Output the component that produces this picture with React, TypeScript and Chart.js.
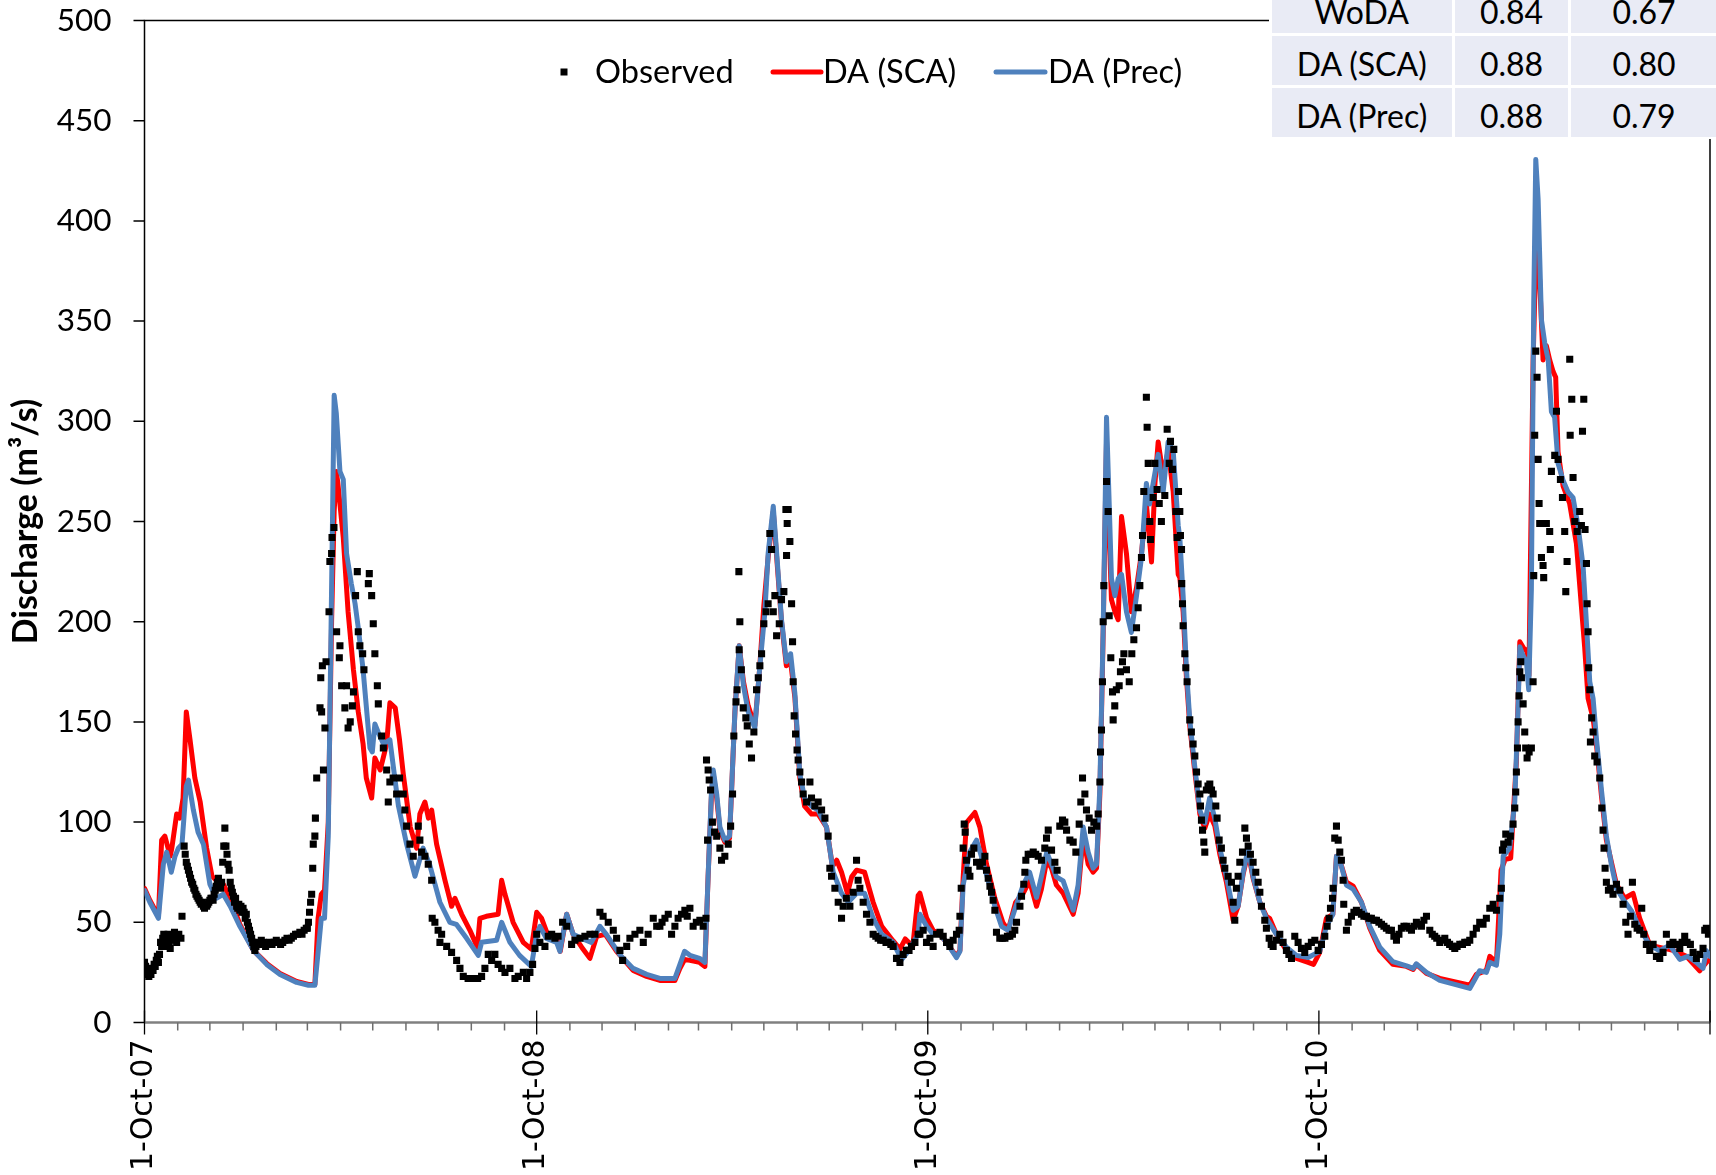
import React, { useEffect, useRef } from "react";
import { Chart, registerables } from "chart.js";

Chart.register(...registerables);

// ---------- data ----------
const yTicks = [0, 50, 100, 150, 200, 250, 300, 350, 400, 450, 500];
const xTickLabels = ["1-Oct-07", "1-Oct-08", "1-Oct-09", "1-Oct-10"];
const legendLabels = ["Observed", "DA (SCA)", "DA (Prec)"];

const tableNames = ["WoDA", "DA (SCA)", "DA (Prec)"];
const tableColA = ["0.84", "0.88", "0.88"];
const tableColB = ["0.67", "0.80", "0.79"];

// [day since 1-Oct-2007, discharge m3/s]
const observed: number[][] = [
  [0,30],[1,28],[2,26],[3,24],[4,23],[5,25],[6,24],[7,27],[8,26],[9,29],[10,28],[11,31],[12,33],[13,30],[14,34],
  [15,40],[16,38],[17,42],[18,44],[19,41],[20,38],[21,43],[22,44],[23,40],[24,37],[25,42],[26,43],[27,41],[28,45],[29,42],[30,40],[31,43],[32,44],[34,42],[35,53],
  [37,88],[38,84],[39,80],[40,78],[41,76],[42,74],[43,72],[44,70],[45,69],[46,67],[47,66],[48,64],[49,63],[50,62],[51,61],[52,60],[53,59],[54,60],[55,58],[56,57],[57,59],[58,58],[59,59],[60,60],[61,61],[62,62],
  [63,62],[64,61],[65,64],[66,66],[67,68],[68,70],[69,72],[70,69],[71,67],[72,70],[73,80],[74,88],[75,97],[76,88],[77,84],[78,79],[79,76],[80,70],[81,67],[82,65],[83,63],[84,60],[85,62],[86,58],[87,57],[88,59],[89,56],[90,58],[91,55],[92,57],[93,55],[94,52],[95,54],[96,50],[97,48],[98,46],[99,44],[100,42],[101,40],[102,38],[103,36],[104,38],
  [105,40],[107,39],[109,41],[111,40],[113,38],[115,39],[117,40],[119,39],[121,40],[123,41],[125,40],[127,39],[129,40],[131,41],[133,42],[135,41],[137,42],[139,43],[141,44],[143,44],[145,45],[147,44],[149,46],[151,47],
  [152,47],[153,50],[154,55],[155,60],[156,64],[157,77],[157.5,89],[159,93],[159.5,102],[160.7,122],[163.8,157],[164.5,172],[165.3,155],[166,178],[167,126],[168.4,147],[169.4,180],[172.2,205],[173,230],[174.6,234],[175,242],[176.8,247],
  [179.3,195],[181.8,182],[182.4,188],[184,168],[187,157],[188.6,168],[190,147],[192,150],[194,158],[195,165],[197,213],[198.6,225],[199.5,195],[201,188],[203.6,184],[204.8,176],[208.9,219],[209.8,224],[212,213],[213.5,199],[215,184],[217.3,168],[218.2,159],[221.3,143],[222.9,137],[226,126],[227.5,110],[229,120],[232,122],[235.3,114],
  [238,122],[241.5,114],[243,106],[244.6,98],[247.7,89],[250.8,83],[255.5,98],[257,91],[258.6,85],[261.7,83],[264.8,79],[268,71],[268.5,52],[271,50],[274,46],[275.7,40],[277.3,44],[282,38],[286.6,35],[291.3,31],[294.4,27],[297.5,23],[302,22],[305,22],[308.4,22],[311,22],[314.6,23],[317.7,27],[320.8,34],[324,31],[327,34],[330,29],[333.3,27],[336.4,25],[341,27],[345.7,22],[348.8,23],[353.5,25],[356.6,22],[359.7,25],[362.2,29],[364.4,37],
  [366,44],[369,40],[373.7,38],[376.8,43],[380,44],[383,42],[386,43],[390.2,50],[394,48],[398.6,39],[401.7,41],[406.4,42],[411,43],[415.7,44],[420.4,44],[425,55],[428,53],[432.8,50],[437.5,46],[440.6,42],[443.7,36],[446.2,31],[450,38],[453,42],[457.7,44],[462.3,46],[465.5,40],[470,44],[474.8,52],[478,48],
  [481,48],[483,50],[485.7,52],[488.8,54],[491.9,44],[495,48],[498,52],[501.2,54],[504.3,56],[506.5,53],[509,57],[512,48],[515,50],[518.3,51],[521.4,48],[524,52],[524.5,131],[525.5,91],[526,126],[527,121],[528.3,116],[530,100],[532,95],[534,93],[537,87],[538.5,81],[541.6,83],[544.8,89],[547,98],[548.8,114],[550,143],[552,160],[553,166],[554.7,225],[555,186],[555.6,200],[557,176],[558.8,157],[561.2,152],[562.5,148],[564.4,139],[566.5,132],[568.7,145],[571.2,166],[572.8,172],[574.3,178],[575.9,184],[578,199],[580,205],[582,209],[583.6,244],[585.2,236],[586.8,205],[588.3,213],[589.9,193],[592.4,199],[594.5,211],[596.7,215],[598.6,256],[599.2,233],[599.8,249],[600.7,256],[602.3,240],[603.9,209],[604.8,190],[605.4,170],[606.3,153],[607.6,144],[609,136],[610,131],[611.6,125],[613.2,120],[614.7,114],[617.9,110],[621,120],[622.5,112],[625.6,108],[628.7,110],[631.9,106],[635,102],[638,93],[639.6,77],[641.2,73],[644.3,67],[647.4,60],[650.5,52],[652,58],[655,62],[658.3,58],[661.4,65],[664.5,81],[666,71],[667.6,67],[670.7,60],[673.8,54],[677,50],[680,44],[682.5,43],[684.7,42],[687,41],[689.4,41],[692,40],[694,40],[696.5,39],[698.7,38],[701.8,32],[705,30],[708,34],[711,36],[713.5,36],[715.8,38],[719,40],[722,44],
  [723.6,44],[726.7,46],[729.8,40],[733,42],[736,38],[739.2,44],[742.3,45],[745.4,43],[748.5,40],[751.6,38],[754.7,41],[757.8,44],[760.3,46],[761,53],[762.2,67],[764,87],[765,99],[765.9,95],[767.1,81],[768.7,76],[770.3,73],[771.8,84],[774,87],[776.5,80],[779.6,78],[782,80],[784.3,83],[785.8,76],[787.4,72],[789,68],[790.5,65],[792,61],[793.6,56],[795.1,45],[798.2,42],[800.5,42],[803,42],[805.3,43],[807.6,43],[810,44],[812.2,46],[813.8,50],[817,58],[818.5,63],[820.6,69],[821.6,75],[822.5,81],[824.7,84],[827,84],[829.4,85],[831.7,84],[834,83],[837.1,81],[840.2,87],[841.8,92],[843.4,96],[846.5,86],[849.6,80],[851.7,76],[854.2,98],[856.7,101],[858.9,100],[860.5,96],[863.6,91],[866.7,90],[869.2,85],[872.3,99],[873.8,110],[875.4,122],[877.6,114],[879.1,106],[881.6,102],[883.8,96],[886,100],[888.5,98],[890,104],[891.6,120],[892.2,135],[893.1,146],[894,170],[894.7,200],[895.3,218],[897.8,270],[899.3,255],[900.3,203],[901.8,182],[903.4,165],[904,151],[905.5,158],[907,166],[909.6,168],[910.8,175],[912.7,180],[914,184],[916.4,176],[919,170],[921.4,184],[923.3,191],[925.8,197],[927.3,207],[928.9,218],[930.4,232],[931.4,243],[932.6,265],[935,312],[935.7,297],[936.7,279],[938.2,250],[938.8,241],[941.3,262],[942.9,279],[945,266],[947,259],[949,250],[952.2,263],[954.4,296],[956.3,279],[957.5,290],[959.4,276],[960.6,286],[962.5,255],[963.7,242],[965,265],
  [966.2,255],[966.8,243],[967.8,236],[968,219],[968.7,209],[969.3,198],[970.9,184],[971.8,177],[973,170],[975.5,151],[977,145],[978.6,139],[980.2,133],[981.8,125],[983.3,119],[984.9,114],[985.5,108],[986.4,101],[987.4,96],[988.6,90],[989.5,85],[991,116],[992.5,118],[994.2,119],[995.8,116],[997.3,114],[999.8,108],[1001,102],[1002.9,91],[1005,87],[1006.6,81],[1008.2,77],[1011.3,73],[1014.4,70],[1016,60],[1017.5,51],[1019,67],[1020.6,73],[1022.2,80],[1024.7,85],[1026.9,97],[1028.4,92],[1030,88],[1032.1,84],[1034.6,80],[1037.1,75],[1039.3,70],[1040.9,65],[1042.4,58],[1045.5,51],[1047,47],[1049.6,42],[1051.5,39],[1053.3,38],[1056.4,41],[1059.5,44],[1062.6,40],[1065.7,36],[1068,34],[1070.4,32],[1073.5,43],[1076.6,40],[1079.7,37],[1082.8,35],[1086,38],[1089,40],[1092.2,41],[1095.3,36],[1098.4,39],[1101.5,43],[1103.7,48],[1105.5,52],[1106.8,57],[1108.7,62],[1109.3,67],[1110.8,92],[1112.4,98],[1114,91],[1115.5,85],[1117,81],[1118.6,71],[1119.2,59],[1121.7,46],[1123.3,50],[1126.4,53],[1128.7,55],[1131,56],[1133.4,55],[1135.7,54],[1138,53],[1140.4,53],[1142.7,52],[1145,52],[1147.4,51],[1149.7,51],[1152,50],[1154.4,49],[1156.7,48],[1159,47],[1161.4,46],[1163.7,46],[1166,43],[1168.4,41],[1170.7,44],[1173,47],[1175.4,48],[1177.7,48],[1180,47],[1182.4,46],[1184.7,48],[1187,50],[1189.4,49],[1191.7,48],[1194,51],[1196.4,53],[1199.5,46],[1201.8,44],[1204.1,43],[1206,42],
  [1208.8,40],[1211,41],[1213.5,42],[1216,40],[1218,39],[1220.5,38],[1222.8,37],[1225,38],[1227.5,39],[1230,39],[1232.1,40],[1234.5,40],[1236.8,41],[1239.9,44],[1243,47],[1246.1,50],[1249.2,49],[1252.3,52],[1255.5,57],[1258.6,59],[1261.7,56],[1264.8,62],[1266.3,67],[1267.3,86],[1268.5,89],[1270.4,94],[1272.6,90],[1274.7,93],[1277.2,99],[1278.8,107],[1279.7,115],[1280.3,125],[1281.3,137],[1281.9,150],[1282.8,163],[1283.5,175],[1284.4,180],[1285,172],[1286.6,159],[1288.1,145],[1289,137],[1290.3,132],[1292.2,135],[1294.3,137],[1295.9,170],[1296.5,223],[1297.4,293],[1298.4,335],[1299.6,322],[1300.6,281],[1301.5,259],[1302.1,249],[1303.7,232],[1305.2,228],[1305.8,222],[1308.3,249],[1311.4,245],[1312,236],[1313,275],[1316.1,283],[1317.7,305],[1319.2,281],[1321.4,271],[1323.3,262],[1325.4,245],[1326.4,215],[1327.6,230],[1330.1,331],[1330.5,293],[1332,311],[1333.2,272],[1334.8,250],[1337,245],[1339.4,255],[1341,248],[1342,295],[1343.2,311],[1344.4,246],[1345.7,229],[1346.3,209],[1347.2,195],[1347.8,177],[1348.8,166],[1349.4,140],[1350.6,152],[1351.9,145],[1353.4,133],[1355.6,130],[1358.1,122],[1360,107],[1361.2,96],[1362.1,87],[1363.1,77],[1364.3,70],[1366.2,66],[1368,67],[1370.5,64],[1373.7,69],[1376.8,66],[1379.9,59],[1382.4,50],[1384.5,44],[1386.7,53],[1388.6,70],[1390.8,49],[1393,47],[1395.4,46],[1397.3,57],[1399.2,44],[1401.6,39],[1404.8,36],[1407.9,39],[1411,33],[1414.1,32],[1417.2,35],[1420.3,44],[1423.4,39],[1426.5,40],[1429.6,39],[1432.8,37],[1435,40],[1437.4,43],[1439.6,40],[1442.7,39],[1445.2,35],[1448.3,32],[1451.4,34],[1454.5,37],[1456.1,46],[1457.6,47],[1459.5,44]
];

const daSca: number[][] = [
  [0,67],[5,61],[13,53],[16,91],[19,93],[24,83],[25.5,87],[30,104],[33,102],[36,112],[39,155],[42.5,141],[47,122],[52,110],[58,87],[63,73],[69,70],[73.5,69],[80,62],[89,49],[101.6,36],[114,29.5],[126.5,24.5],[142,20.5],[153,19],[159,19],[162,52],[165,64],[168,66],[171.5,100],[174.6,200],[177,255],[179,275],[180.5,269],[185.5,242],[190,205],[195,176],[199.5,155],[204,139],[207,122],[212,112],[215,132],[220,126],[226,139],[229,159.5],[234,157],[238,141],
  [241.5,124],[248,97.5],[254,87],[257,104],[261.7,110],[265,102],[268,106],[272.6,89],[280.4,71],[286.6,58],[289.7,62],[296,54],[303.7,46],[310.6,37.6],[313,52],[319,53],[330,54],[333.3,71],[336.4,64],[344,50],[353.5,40],[361,36.6],[366,55],[370.6,52],[376.8,43],[385,41],[388,35.5],[394,54],[400,44],[408,37.6],[415.7,32],[422,43],[430,44],[440.6,35.5],[456,26],[468.6,23],[481,21],
  [495,21],[499.7,27],[504,31.4],[509,31],[518,30],[523,28],[526,73],[529,112],[530.8,124],[534,112],[537,96],[541.6,90],[546,92],[551,155],[555,188],[559,170],[563.4,158],[569.6,148],[574,176],[578,208],[582,232],[586.8,255],[590,232],[594.5,200],[599,178],[603,180],[607,162],[611.6,122],[616,108],[622.5,104],[628.7,104],[636.5,97.5],[642,78],[646,81],[650.5,75],[656,64.5],[660,72.7],[664.5,76],[672,75],[680,60],[688,48],[698.7,40.7],[705,36.6],[710,41.7],[717,38],[722,63.4],
  [723.6,64.5],[730,52],[736,46],[742,44],[748.5,40],[757.8,33],[761,36],[764,72],[767,99.6],[775,104.8],[779.6,97.5],[785.8,79],[793.6,62],[801,50],[806,46],[813,60],[820,64.5],[826,70.7],[832.5,58],[837,66.5],[842,81],[846.5,77],[851,68.6],[857.3,64.5],[866.7,54],[871.3,64.5],[876,93],[880.7,79],[885.3,75],[888.5,77],[891.6,114],[894.7,195],[897.8,290],[900.3,244],[902.4,211],[905.6,205],[908.7,201],[911.8,252.5],[916.4,234],[921,205],[925.8,217],[930.4,234],[935,258.7],[939.8,229.8],[943,269],[946,289.7],[950.7,273],[955.3,285.5],[960,265],[964.7,223.6],
  [966.2,222],[969.3,205],[972.4,172],[975.5,148],[980,126],[984.9,104],[989.5,97],[994,104],[998.9,98],[1003.5,84],[1009.7,70],[1016,51],[1020.6,58],[1025.3,74],[1030,85],[1034.6,72],[1040.9,60],[1047,53],[1050,52],[1056.4,44],[1065.7,36],[1075,32],[1086,30],[1091,29],[1096.8,35],[1103,52],[1109,54],[1112.4,83],[1115.5,81],[1121.7,70],[1128,68],[1135.7,60],[1143.5,47],[1152.8,36],[1165,29],[1177.7,28],[1184,26.5],[1187,29],[1196.4,24.5],[1208.8,22],
  [1236.8,18.6],[1243,24],[1252.3,26],[1255.5,33],[1261.7,30],[1266,76],[1270,81.5],[1275,82],[1280.3,130],[1283.5,190],[1288,186],[1290,186],[1292,173],[1295.9,330],[1299,393.5],[1302,370.6],[1305.2,330.6],[1308.3,337.7],[1311.4,330.6],[1314.6,324.8],[1317,322],[1319.2,284.8],[1323.9,267.6],[1330,259],[1336.3,239],[1341,207.5],[1344,187.5],[1347.2,161.7],[1351.9,151.7],[1355,138.8],[1359.7,113],[1364.3,91],[1373.7,69],[1381.4,62],[1389.2,64.4],[1395.4,52],[1404.8,38.6],[1426.5,36],[1439,33],[1451.4,25.8],[1457.6,30],[1461,31.5]
];

const daPrec: number[][] = [
  [0,66],[5,60],[13,52],[17.6,79],[20.7,85],[25,75],[28.5,83],[31.6,87],[35,89],[39,118],[41,121],[45.6,106],[50,95],[55,89],[61,69],[67,62],[73.5,64],[80,58],[89,48],[101.6,36],[114,29],[126.5,24],[142,20],[153,18.6],[159,18.6],[162,35],[165,52],[168,52],[171.5,93],[174.6,217],[177,313],[179,304],[182.4,275],[185.5,271],[188.6,234],[193,219],[196.5,209],[199.5,197],[204,176],[210.4,137],[212.6,135],[215,149],[218,145],[223,139],[229,141],[237,108],
  [244.6,89],[252.4,73],[260,87],[266,79],[275.7,60],[285,50],[291,49],[300.6,42],[311.5,33.5],[314.6,40],[328.6,41],[333.3,50],[341,40],[350,33.5],[361,28],[366,44],[369,48],[375,42],[384.6,40],[387.7,35.5],[394,54],[400,44],[408,42],[417,40],[425,48],[431,44],[444,33.5],[456,27],[468.6,24],[481,22],
  [495,22],[499.7,29],[504,35.5],[509,33.5],[518,32],[523,30],[526,73],[529,114],[530.8,126],[534,114],[537,97.5],[541.6,91],[546,93],[551,155],[555,188],[559,168],[563.4,155],[569.6,147],[574,176],[579,205],[582,234],[586.8,257.6],[590,234],[594.5,201],[599,180],[603,184],[607,164],[611.6,124],[616,112],[622.5,108],[628.7,106],[636.5,97.5],[642.7,75],[650.5,64.5],[656.7,60],[664.5,64.5],[672,64.5],[680,52],[688,44],[698.7,40],[706.5,31.4],[712.7,35.5],[722,44],
  [723.6,54],[730,48],[736,44],[742,44],[748.5,40],[757.8,32.4],[761,35.5],[764,68.6],[770,85],[776.5,91],[781,83],[787.4,70.7],[793.6,58],[799.8,48],[806,46],[812,56],[820,68.6],[826,75],[832.5,62.4],[837,72.7],[842,85],[846.5,79],[851,72.7],[857.3,70.7],[866.7,56],[871.3,68.6],[876,97.5],[880.7,85],[885.3,77],[888.5,79],[891.6,118],[894.7,197],[897.8,302],[900.3,259],[902.4,221.5],[905.6,213],[908.7,221.5],[911.8,223.6],[916.4,205],[921,194.6],[925.8,213],[930.4,232],[935,269],[938,258.7],[941.3,269],[946,283.5],[950.7,265],[955.3,289.7],[960,285.5],[964.7,248],
  [966.2,242],[969.3,213],[972.4,176],[975.5,151],[980,128.5],[984.9,105.8],[989.5,99.6],[994,112],[998.9,101.7],[1003.5,87],[1009.7,72.7],[1016,56],[1020.6,58],[1025.3,74.8],[1030,87],[1034.6,72.7],[1040.9,60],[1047,52],[1056.4,44],[1065.7,37.6],[1075,33.5],[1086,32.4],[1096.8,35.5],[1103,48],[1109,54],[1112.4,83],[1115.5,81],[1121.7,68.6],[1128,66.5],[1135.7,60],[1143.5,48],[1152.8,37.6],[1165,30.4],[1177.7,28.3],[1184,27],[1187,29.3],[1196.4,25],[1208.8,21],
  [1236.8,17],[1241.5,21.5],[1246,25.8],[1252.3,25],[1255.5,30],[1261.7,28.6],[1264.8,44],[1268,83],[1274,87],[1278.8,110],[1282,159],[1283.5,187.5],[1286.6,183],[1289.7,180],[1291.8,166],[1294.3,216],[1296.5,359],[1298.4,430.7],[1300.6,410.7],[1303.7,350.6],[1306.8,339],[1310,330.6],[1313,304.8],[1316,302],[1319.2,279],[1323.9,270.5],[1328.5,264.7],[1333.2,261.9],[1337.9,247.6],[1342.6,227.5],[1345.7,199],[1348.8,170],[1351.9,161.7],[1355,141.7],[1359.7,116],[1364.3,93],[1369,78.7],[1373.7,67],[1379.9,61.5],[1387.6,55.8],[1395.4,47],[1404.8,38.6],[1414,35.8],[1423.4,38.6],[1432.8,31.5],[1440.5,33],[1448.3,30],[1454.5,27],[1457.6,35.8],[1461,33]
];

// month boundaries (days since 1-Oct-2007)
const START = Date.UTC(2007, 9, 1);
const monthDays = Array.from({ length: 49 }, (_, m) => (Date.UTC(2007, 9 + m, 1) - START) / 86400000);
const yearDays = monthDays.filter((_, m) => m % 12 === 0);
const labelDays = yearDays.slice(0, xTickLabels.length);

const RED = "#FF0000";
const BLUE = "#4F81BD";

const decorPlugin = {
  id: "decor",
  beforeDatasetsDraw(chart: any) {
    const { ctx, chartArea: a, scales } = chart;
    const xs = scales.x, ys = scales.y;
    ctx.save();
    ctx.lineCap = "butt";
    ctx.strokeStyle = "#000";
    ctx.lineWidth = 1.5;
    ctx.beginPath();
    ctx.moveTo(a.left, a.bottom);
    ctx.lineTo(a.left, a.top);
    ctx.lineTo(a.right, a.top);
    ctx.lineTo(a.right, a.bottom);
    ctx.stroke();
    ctx.beginPath();
    for (const v of yTicks) {
      const py = ys.getPixelForValue(v);
      ctx.moveTo(a.left - 11, py);
      ctx.lineTo(a.left, py);
    }
    ctx.stroke();
    ctx.strokeStyle = "#808080";
    ctx.lineWidth = 2.5;
    ctx.beginPath();
    ctx.moveTo(a.left, a.bottom);
    ctx.lineTo(a.right, a.bottom);
    ctx.stroke();
    ctx.lineWidth = 1.5;
    ctx.strokeStyle = "#6e6e6e";
    ctx.beginPath();
    monthDays.forEach((d, m) => {
      if (m % 12 !== 0) {
        const px = xs.getPixelForValue(d);
        ctx.moveTo(px, a.bottom);
        ctx.lineTo(px, a.bottom + 8);
      }
    });
    ctx.stroke();
    ctx.strokeStyle = "#000";
    ctx.lineWidth = 1.3;
    ctx.beginPath();
    yearDays.forEach((d) => {
      const px = xs.getPixelForValue(d);
      ctx.moveTo(px, a.bottom - 12);
      ctx.lineTo(px, a.bottom + 12);
    });
    ctx.stroke();
    ctx.restore();
  },
  afterDraw(chart: any) {
    const { ctx } = chart;
    ctx.save();
    ctx.fillStyle = "#000";
    ctx.fillRect(560.5, 68.5, 7, 7);
    ctx.font = "32.5px Lato";
    ctx.textAlign = "left";
    ctx.textBaseline = "alphabetic";
    ctx.fillText(legendLabels[0], 595, 83);
    ctx.lineCap = "round";
    ctx.lineWidth = 5;
    ctx.strokeStyle = RED;
    ctx.beginPath();
    ctx.moveTo(773, 72);
    ctx.lineTo(821, 72);
    ctx.stroke();
    ctx.fillText(legendLabels[1], 823, 83);
    ctx.strokeStyle = BLUE;
    ctx.beginPath();
    ctx.moveTo(996, 72);
    ctx.lineTo(1045, 72);
    ctx.stroke();
    ctx.fillText(legendLabels[2], 1048, 83);
    ctx.restore();
  },
};

export default function App() {
  const ref = useRef<HTMLCanvasElement | null>(null);

  useEffect(() => {
    if (!ref.current) return;
    const toXY = (arr: number[][]) => arr.map(([x, y]) => ({ x, y }));
    const chart = new Chart(ref.current, {
      type: "scatter",
      data: {
        datasets: [
          {
            label: legendLabels[0],
            data: toXY(observed),
            showLine: false,
            pointStyle: "rect",
            pointRadius: 5,
            pointBackgroundColor: "#000",
            pointBorderWidth: 0,
            pointBorderColor: "#000",
          },
          {
            label: legendLabels[2],
            data: toXY(daPrec),
            showLine: true,
            borderColor: BLUE,
            borderWidth: 5,
            pointRadius: 0,
            tension: 0,
            borderJoinStyle: "round",
            borderCapStyle: "round",
          },
          {
            label: legendLabels[1],
            data: toXY(daSca),
            showLine: true,
            borderColor: RED,
            borderWidth: 5,
            pointRadius: 0,
            tension: 0,
            borderJoinStyle: "round",
            borderCapStyle: "round",
          },
        ],
      } as any,
      options: {
        responsive: false,
        animation: false,
        events: [],
        layout: { padding: { left: 0, right: 6, top: 20.5, bottom: 0 } },
        plugins: { legend: { display: false }, tooltip: { enabled: false } },
        scales: {
          x: {
            type: "linear",
            min: monthDays[0],
            max: monthDays[monthDays.length - 1],
            grid: { display: false, drawTicks: true, tickLength: 17 },
            border: { display: false },
            afterBuildTicks: (s: any) => {
              s.ticks = labelDays.map((v) => ({ value: v }));
            },
            afterFit: (s: any) => {
              s.height = 152.5;
            },
            ticks: {
              autoSkip: false,
              minRotation: 90,
              maxRotation: 90,
              padding: 0,
              color: "#000",
              font: { family: "DejaVu Sans", size: 30 },
              callback: (v: any) => {
                const i = labelDays.indexOf(Number(v));
                return i >= 0 ? xTickLabels[i] : "";
              },
            },
          },
          y: {
            min: 0,
            max: 500,
            grid: { display: false, drawTicks: true, tickLength: 33 },
            border: { display: false },
            afterBuildTicks: (s: any) => {
              s.ticks = yTicks.map((v) => ({ value: v }));
            },
            afterFit: (s: any) => {
              s.width = 144.5;
            },
            ticks: {
              padding: 0,
              color: "#000",
              font: { family: "Lato", size: 31.5 },
            },
            title: {
              display: true,
              text: "Discharge (m³/s)",
              color: "#000",
              font: { family: "Lato", size: 34, weight: "bold" },
              padding: { top: 6, bottom: 0 },
            },
          },
        },
      } as any,
      plugins: [decorPlugin],
    });
    return () => chart.destroy();
  }, []);

  const colLeft = [1271.7, 1455, 1571];
  const colWidth = [180, 113, 146];
  const rowTop = [-16.3, 35.7, 87.7];
  const rowH = 49;
  const cols = [tableNames, tableColA, tableColB];

  return (
    <div
      style={{
        position: "absolute",
        left: 0,
        top: 0,
        width: 1716,
        height: 1175,
        overflow: "hidden",
        background: "#fff",
      }}
    >
      <canvas ref={ref} width={1716} height={1175} style={{ display: "block", width: 1716, height: 1175 }} />
      <div style={{ position: "absolute", left: 1269, top: 0, width: 447, height: 139, background: "#fff" }} />
      {rowTop.map((top, r) =>
        cols.map((col, c) => (
          <div
            key={`${r}-${c}`}
            style={{
              position: "absolute",
              left: colLeft[c],
              top,
              width: colWidth[c],
              height: rowH,
              boxSizing: "border-box",
              paddingTop: 7,
              background: "#E9EBF5",
              display: "flex",
              alignItems: "center",
              justifyContent: "center",
              fontFamily: "Lato",
              fontSize: 32,
              color: "#000",
              whiteSpace: "nowrap",
            }}
          >
            {col[r]}
          </div>
        ))
      )}
    </div>
  );
}
